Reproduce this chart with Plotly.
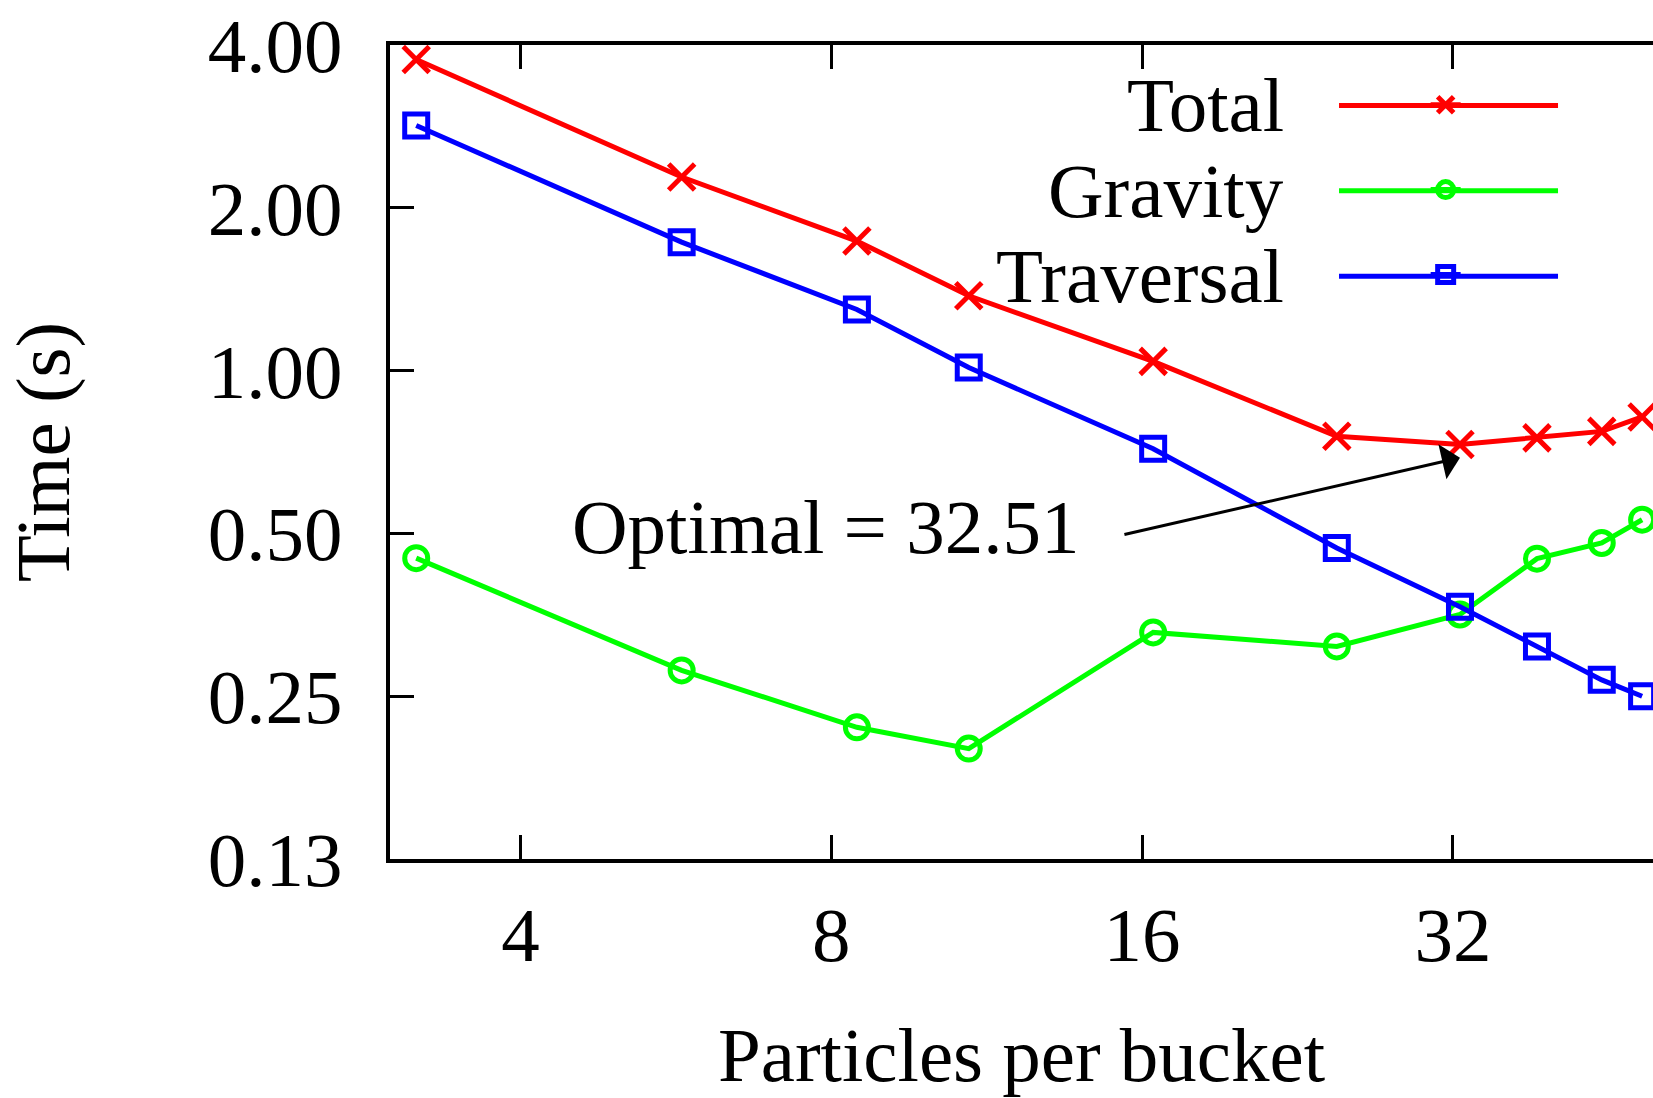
import numpy as np
import plotly.graph_objects as go

# ---- data ----
particles = [3.17, 5.73, 8.47, 10.87, 16.4, 24.7, 32.51, 38.6, 44.6, 48.8]
total     = [3.76, 2.28, 1.736, 1.375, 1.04, 0.756, 0.730, 0.751, 0.772, 0.821]
gravity   = [0.450, 0.279, 0.219, 0.200, 0.328, 0.309, 0.354, 0.449, 0.480, 0.530]
traversal = [2.84, 1.728, 1.297, 1.013, 0.717, 0.470, 0.366, 0.309, 0.268, 0.250]

series_names = ["Total", "Gravity", "Traversal"]
x_tick_vals = [4, 8, 16, 32]
x_tick_text = ["4", "8", "16", "32"]
y_tick_vals = [0.125, 0.25, 0.5, 1, 2, 4]
y_tick_text = ["0.13", "0.25", "0.50", "1.00", "2.00", "4.00"]

optimal_label = "Optimal = 32.51"
arrow_from = (15.33, 0.497)
arrow_to = (32.51, 0.69)
label_at = (14.0, 0.514)

FONT = "Liberation Serif"
FS = 77

W, H = 1653, 1098
ML, MT, MB, MR = 390, 45, 239, 0

colors = ["#ff0000", "#00ff00", "#0000ff"]
symbols = ["x-thin-open", "circle-open", "square-open"]
sizes = [26, 23, 23]

fig = go.Figure()
for name, ys, c, s, sz in zip(series_names, [total, gravity, traversal], colors, symbols, sizes):
    fig.add_trace(go.Scatter(
        x=particles, y=ys, mode="lines+markers", name=" ",
        line=dict(color=c, width=5),
        marker=dict(symbol=s, size=sz, color=c, line=dict(color=c, width=5)),
        cliponaxis=False,
    ))

fig.update_layout(
    width=W, height=H,
    margin=dict(l=ML, r=MR, t=MT, b=MB, pad=0),
    paper_bgcolor="white", plot_bgcolor="white",
    font=dict(family=FONT, size=FS, color="black"),
    showlegend=True,
    legend=dict(x=0.82, y=0.985, xanchor="left", yanchor="top",
                bgcolor="rgba(0,0,0,0)", font=dict(family=FONT, size=63),
                itemclick=False, tracegroupgap=0),
)

fig.update_xaxes(
    type="log",
    range=[np.log10(2.99), np.log10(50.0)],
    tickvals=x_tick_vals, ticktext=x_tick_text,
    ticks="inside", ticklen=24, tickwidth=3, tickcolor="black",
    showline=True, linewidth=4, linecolor="black", mirror="ticks",
    showgrid=False, zeroline=False,
    tickfont=dict(family=FONT, size=FS),
    ticklabelstandoff=6,
    title=dict(text="Particles per bucket", font=dict(family=FONT, size=FS), standoff=77),
    automargin=False,
)
fig.update_yaxes(
    type="log",
    range=[np.log10(0.125), np.log10(4)],
    tickvals=y_tick_vals, ticktext=y_tick_text,
    ticks="inside", ticklen=24, tickwidth=3, tickcolor="black",
    showline=True, linewidth=4, linecolor="black", mirror=False,
    showgrid=False, zeroline=False,
    tickfont=dict(family=FONT, size=FS),
    ticklabelstandoff=28,
    title=dict(text="Time (s)", font=dict(family=FONT, size=FS), standoff=118),
    automargin=False,
)

# legend key: labels right-aligned left of long sample lines (gnuplot style)
legend_rows_y = [0.9258, 0.8209, 0.7160]
for name, yy, c in zip(series_names, legend_rows_y, colors):
    fig.add_annotation(x=0.7094, y=yy, xref="paper", yref="paper",
                       text=name, showarrow=False, xanchor="right", yanchor="middle",
                       font=dict(family=FONT, size=FS))
    fig.add_shape(type="line", xref="paper", yref="paper",
                  x0=0.7514, x1=0.9248, y0=yy, y1=yy,
                  line=dict(color=c, width=5), layer="above")

# optimal label and arrow
fig.add_annotation(x=np.log10(label_at[0]), y=np.log10(label_at[1]), xref="x", yref="y",
                   text=optimal_label, showarrow=False, xanchor="right", yanchor="middle",
                   font=dict(family=FONT, size=FS))
fig.add_annotation(x=np.log10(arrow_to[0]), y=np.log10(arrow_to[1]), xref="x", yref="y",
                   ax=np.log10(arrow_from[0]), ay=np.log10(arrow_from[1]), axref="x", ayref="y",
                   text="", showarrow=True, arrowhead=1, arrowsize=2, arrowwidth=3,
                   arrowcolor="black", standoff=0, startstandoff=0)

fig.write_html("out.html")
